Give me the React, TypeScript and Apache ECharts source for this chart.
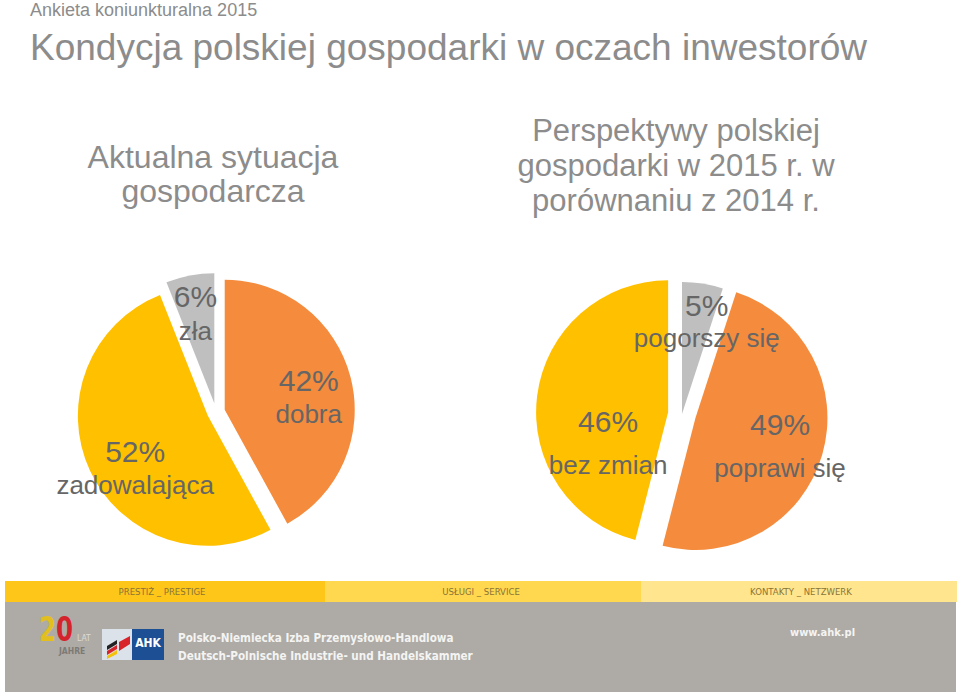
import React, { useEffect, useRef } from "react";
import * as echarts from "echarts";

// ---- data ----
const currentNames = ["dobra", "zadowalająca", "zła"];
const currentValues = [42, 52, 6];
const outlookNames = ["pogorszy się", "poprawi się", "bez zmian"];
const outlookValues = [5, 49, 46];

const pageTitle = "Ankieta koniunkturalna 2015";
const mainTitle = "Kondycja polskiej gospodarki w oczach inwestorów";
const leftTitle = "Aktualna sytuacja\ngospodarcza";
const rightTitle = "Perspektywy polskiej\ngospodarki w 2015 r. w\nporównaniu z 2014 r.";

const bandLabels = ["PRESTIŻ _ PRESTIGE", "USŁUGI _ SERVICE", "KONTAKTY _ NETZWERK"];
const chamberLines = ["Polsko-Niemiecka Izba Przemysłowo-Handlowa", "Deutsch-Polnische Industrie- und Handelskammer"];
const website = "www.ahk.pl";

// ---- styles / layout ----
const ORANGE = "#F58B3C";
const YELLOW = "#FFC000";
const GREY = "#BFBFBF";
const currentColors = [ORANGE, YELLOW, GREY];
const outlookColors = [GREY, ORANGE, YELLOW];
const currentExploded = [true, true, true];
const outlookExploded = [false, true, true];
// label shift from the library's "inside" label position
const currentLabelShift = [[19, -6], [-39, 46], [5, -27]];
const outlookLabelShift = [[14, -25], [35, 18], [6, 26]];
// rich style key of the percentage line, per slice
const currentPctKey = ["v", "v", "vm"];
const outlookPctKey = ["vs", "vb", "vb"];

const FONT = '"Liberation Sans", Arial, sans-serif';
const NARROW = '"DejaVu Sans Condensed", "DejaVu Sans", sans-serif';
const LABEL_COLOR = "#666666";
const TITLE_COLOR = "#8c8c8c";

function pieSeries(names: string[], values: number[], colors: string[], exploded: boolean[], center: number[], radius: number, offset: number, shift: number[][], pctKey: string[]) {
  const pct = (lh: number) => ({ fontSize: 30, fontFamily: FONT, color: LABEL_COLOR, lineHeight: lh, align: "center" });
  const labelRich = {
    v: pct(37),
    vm: pct(40),
    vs: pct(34),
    vb: pct(57),
    n: { fontSize: 26, fontFamily: FONT, color: LABEL_COLOR, lineHeight: 30, align: "center" },
  };
  const label = {
    show: true,
    position: "inside",
    formatter: (p: any) => `{${pctKey[p.dataIndex]}|${p.value}%}\n{n|${p.name}}`,
    rich: labelRich,
  };
  return {
    type: "pie",
    center,
    radius: [0, radius],
    startAngle: 90,
    clockwise: true,
    selectedMode: "multiple",
    selectedOffset: offset,
    avoidLabelOverlap: false,
    label,
    labelLine: { show: false },
    emphasis: { disabled: true },
    select: { itemStyle: { borderWidth: 0 }, label },
    itemStyle: { borderWidth: 0 },
    labelLayout: (params: any) => ({ dx: shift[params.dataIndex][0], dy: shift[params.dataIndex][1] }),
    data: names.map((n, i) => ({ name: n, value: values[i], selected: exploded[i], itemStyle: { color: colors[i] } })),
  };
}

function txt(x: number, y: number, text: string, font: string, fill: string, align = "left", vAlign = "middle", lineHeight?: number, rich?: any) {
  return {
    type: "text",
    x,
    y,
    silent: true,
    style: { text, font, fill, align, textAlign: align, verticalAlign: vAlign, textVerticalAlign: vAlign, lineHeight, rich },
  };
}

export default function App() {
  const ref = useRef<HTMLDivElement>(null);
  useEffect(() => {
    if (!ref.current) return;
    const chart = echarts.init(ref.current, undefined, { renderer: "svg" });
    const bandSegs = [
      { x: 5, w: 320, c: "#FFC61A" },
      { x: 325, w: 316, c: "#FFD84F" },
      { x: 641, w: 316, c: "#FFE68E" },
    ];
    const bandTextX = [162, 481, 801];
    const logo20 = txt(39, 629, "{a|2}{b|0}", `bold 34px ${NARROW}`, "#E9C21A", "left", "middle", undefined, {
      a: { fill: "#E3BE1F", font: `bold 34px ${NARROW}` },
      b: { fill: "#D4232B", font: `bold 34px ${NARROW}` },
    });
    (logo20 as any).scaleX = 0.8;
    const graphic: any[] = [
      txt(30, 10, pageTitle, `18px ${FONT}`, TITLE_COLOR),
      txt(30, 47, mainTitle, `37px ${FONT}`, TITLE_COLOR),
      txt(213, 174, leftTitle, `32px ${FONT}`, TITLE_COLOR, "center", "middle", 33.5),
      txt(676, 165, rightTitle, `31px ${FONT}`, TITLE_COLOR, "center", "middle", 35),
      // footer
      ...bandSegs.map((s) => ({ type: "rect", silent: true, shape: { x: s.x, y: 581, width: s.w, height: 21 }, style: { fill: s.c } })),
      { type: "rect", silent: true, shape: { x: 5, y: 602, width: 951, height: 90 }, style: { fill: "#AEABA6" } },
      ...bandLabels.map((t, i) => txt(bandTextX[i], 591.5, t, `9.5px ${NARROW}`, "#8a7436", "center")),
      // 20 lat logo
      logo20,
      txt(77, 638, "LAT", `8.5px ${NARROW}`, "#DDDAD4", "left", "middle"),
      txt(59, 651, "JAHRE", `bold 8.5px ${NARROW}`, "#7d7a75", "left", "middle"),
      // AHK logo
      { type: "rect", silent: true, shape: { x: 102, y: 629, width: 31, height: 31 }, style: { fill: "#DCE2EA" } },
      { type: "rect", silent: true, shape: { x: 132, y: 629, width: 32, height: 31 }, style: { fill: "#1C4F93" } },
      { type: "polygon", silent: true, shape: { points: [[107, 646], [117, 640], [117, 644], [107, 650]] }, style: { fill: "#222" } },
      { type: "polygon", silent: true, shape: { points: [[107, 651], [117, 645], [117, 649], [107, 655]] }, style: { fill: "#D9232B" } },
      { type: "polygon", silent: true, shape: { points: [[107, 656], [117, 650], [117, 654], [107, 659]] }, style: { fill: "#F4C20D" } },
      { type: "polygon", silent: true, shape: { points: [[119, 642], [130, 636], [130, 644], [119, 651]] }, style: { fill: "#D9232B" } },
      txt(148, 643, "AHK", `bold 12px ${NARROW}`, "#ffffff", "center"),
      // chamber name
      txt(178, 637.5, chamberLines[0], `bold 11.6px ${NARROW}`, "#F4F4F2", "left"),
      txt(178, 655.5, chamberLines[1], `bold 11.6px ${NARROW}`, "#F4F4F2", "left"),
      txt(790, 632, website, `bold 11px ${NARROW}`, "#F4F4F2", "left"),
    ];
    chart.setOption({
      animation: false,
      backgroundColor: "#ffffff",
      graphic,
      series: [
        pieSeries(currentNames, currentValues, currentColors, currentExploded, [216, 412], 130, 9, currentLabelShift, currentPctKey),
        pieSeries(outlookNames, outlookValues, outlookColors, outlookExploded, [682, 414], 132, 14, outlookLabelShift, outlookPctKey),
      ],
    });
    return () => chart.dispose();
  }, []);
  return <div ref={ref} style={{ position: "absolute", left: 0, top: 0, width: 960, height: 696 }} />;
}
